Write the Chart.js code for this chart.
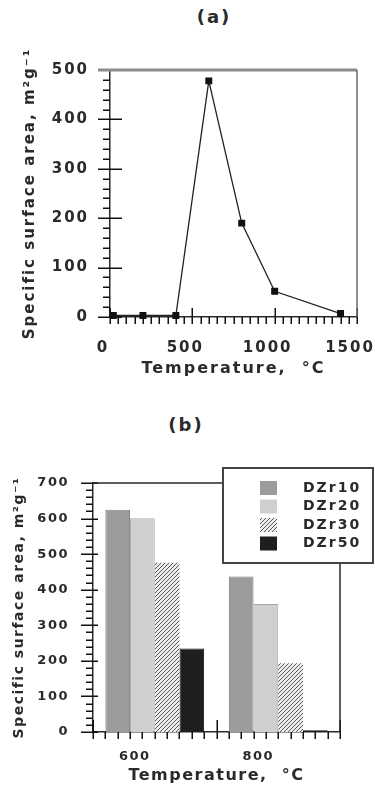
<!DOCTYPE html>
<html>
<head>
<meta charset="utf-8">
<script src="https://cdn.jsdelivr.net/npm/chart.js"></script>
<style>
body { margin: 0; background: #fff; width: 375px; height: 785px; position: relative; overflow: hidden; }
.cap { position: absolute; font: bold 18px "DejaVu Sans"; color: #2a2a2a; transform: translateX(-50%); line-height: 21px; letter-spacing: 2px; }
#capA { left: 214px; top: 6px; }
#capB { left: 186px; top: 414px; }
#chartA { position: absolute; left: 0; top: 0; }
#chartB { position: absolute; left: 0; top: 400px; }
</style>
</head>
<body>
<div class="cap" id="capA">(a)</div>
<div class="cap" id="capB">(b)</div>
<canvas id="chartA" width="375" height="400"></canvas>
<canvas id="chartB" width="375" height="385"></canvas>
<script>
// (a) surface area vs calcination temperature
const tempsA = [20, 200, 400, 600, 800, 1000, 1400];
const areaA = [3, 3, 3, 478, 190, 52, 7];

// (b) grouped bars
const tempsB = ['600', '800'];
const dzr10 = [625, 437];
const dzr20 = [601, 360];
const dzr30 = [476, 193];
const dzr50 = [235, 5];

const yTitle = 'Specific surface area, m²g⁻¹';
const xTitle = 'Temperature,  °C';
const ink = '#2a2a2a';

function hatch() {
    const c = document.createElement('canvas');
    c.width = 4; c.height = 4;
    const g = c.getContext('2d');
    g.fillStyle = '#ececec';
    g.fillRect(0, 0, 4, 4);
    g.strokeStyle = '#5a5a5a';
    g.lineWidth = 1;
    g.beginPath();
    g.moveTo(0, 4); g.lineTo(4, 0);
    g.moveTo(-1, 1); g.lineTo(1, -1);
    g.moveTo(3, 5); g.lineTo(5, 3);
    g.stroke();
    return g.createPattern(c, 'repeat');
}

// the old typeface is widely spaced
const spacing = {
    id: 'spacing',
    beforeDraw(chart, args, o) {
        chart.ctx.letterSpacing = o.value || '0px';
    }
};

// tick marks: every minor step, longer at majors, positions from the scales
function drawTicks(chart, spec) {
    const ctx = chart.ctx;
    const s = chart.scales[spec.id];
    const n = Math.round((spec.to - spec.from) / spec.minor);
    const every = Math.round(spec.major / spec.minor);
    ctx.save();
    ctx.strokeStyle = '#111';
    ctx.lineWidth = 1.5;
    for (let i = 0; i <= n; i++) {
        const len = (i % every === 0) ? spec.majorLen : spec.minorLen;
        const p = Math.round(s.getPixelForValue(spec.from + i * spec.minor)) + 0.25;
        ctx.beginPath();
        if (s.isHorizontal()) {
            ctx.moveTo(p, s.top - len[0]);
            ctx.lineTo(p, s.top + len[1]);
        } else {
            ctx.moveTo(s.right + len[0], p);
            ctx.lineTo(s.right - len[1], p);
        }
        ctx.stroke();
    }
    ctx.restore();
}

const ticksA = [
    {id: 'x', from: 0, to: 1500, minor: 50, major: 500, minorLen: [0, 7], majorLen: [9, 7]},
    {id: 'y', from: 0, to: 500, minor: 20, major: 100, minorLen: [0, 7], majorLen: [12, 12]}
];
const ticksB = [
    {id: 'x', from: -0.5, to: 1.5, minor: 0.1, major: 1, minorLen: [0, 7], majorLen: [12, 7]},
    {id: 'y', from: 0, to: 700, minor: 20, major: 100, minorLen: [0, 7], majorLen: [5, 12]}
];

const frameA = {
    id: 'frameA',
    afterDraw(chart) {
        const {ctx, chartArea: ca} = chart;
        ticksA.forEach(t => drawTicks(chart, t));
        ctx.save();
        ctx.strokeStyle = '#8c8c8c';
        ctx.lineWidth = 3;
        ctx.beginPath();
        ctx.moveTo(ca.left - 12, ca.top);
        ctx.lineTo(ca.right, ca.top);
        ctx.stroke();
        ctx.strokeStyle = '#6a6a6a';
        ctx.lineWidth = 1.5;
        ctx.beginPath();
        ctx.moveTo(ca.right, ca.top);
        ctx.lineTo(ca.right, ca.bottom);
        ctx.stroke();
        ctx.restore();
    }
};

const legendB = {
    id: 'legendB',
    afterDraw(chart) {
        const {ctx, chartArea: ca} = chart;
        ticksB.forEach(t => drawTicks(chart, t));
        const left = ca.right - 117, top = ca.top - 15, w = 150, h = 95;
        ctx.save();
        ctx.strokeStyle = ink;
        ctx.lineWidth = 1.5;
        ctx.beginPath();
        ctx.moveTo(ca.left, ca.top);
        ctx.lineTo(left, ca.top);
        ctx.moveTo(ca.right, top + h);
        ctx.lineTo(ca.right, ca.bottom);
        ctx.stroke();
        ctx.fillStyle = '#fff';
        ctx.fillRect(left, top, w, h);
        ctx.strokeStyle = '#444';
        ctx.lineWidth = 2;
        ctx.strokeRect(left, top, w, h);
        ctx.font = 'bold 14px "DejaVu Sans"';
        ctx.letterSpacing = '2px';
        ctx.textBaseline = 'middle';
        ctx.textAlign = 'left';
        chart.data.datasets.forEach((ds, i) => {
            const y = top + 20 + i * 18.5;
            ctx.fillStyle = ds.backgroundColor;
            ctx.fillRect(left + 37, y - 7, 17, 14);
            ctx.fillStyle = ink;
            ctx.fillText(ds.label, left + 80, y);
        });
        ctx.restore();
    }
};

const tickFontA = {family: 'DejaVu Sans', size: 15, weight: 'bold'};
const titleFontA = {family: 'DejaVu Sans', size: 16, weight: 'bold'};
const yTitleFontA = {family: 'DejaVu Sans', size: 15, weight: 'bold'};
const tickFontB = {family: 'DejaVu Sans', size: 13, weight: 'bold'};
const titleFontB = {family: 'DejaVu Sans', size: 16, weight: 'bold'};
const yTitleFontB = {family: 'DejaVu Sans', size: 14, weight: 'bold'};

new Chart(document.getElementById('chartA'), {
    type: 'line',
    data: {
        datasets: [{
            label: 'Surface area',
            data: tempsA.map((t, i) => ({x: t, y: areaA[i]})),
            borderColor: '#222',
            borderWidth: 1.3,
            pointStyle: 'rect',
            pointRadius: 4,
            pointBackgroundColor: '#111',
            pointBorderColor: '#111',
            tension: 0,
            clip: false
        }]
    },
    options: {
        responsive: false,
        animation: false,
        layout: { padding: {top: 70, right: 18, left: 0, bottom: 0} },
        scales: {
            x: {
                type: 'linear',
                min: 0, max: 1500,
                grid: { display: false },
                border: { display: true, color: ink, width: 1.5 },
                ticks: { stepSize: 500, color: ink, font: tickFontA, padding: 14, labelOffset: -7, maxRotation: 0,
                         callback: v => String(v) },
                title: { display: true, text: xTitle, color: ink, font: titleFontA, padding: {top: 0, bottom: 22} },
                afterFit(s) { s.height = 83; s.paddingLeft = 0; s.paddingRight = 0; }
            },
            y: {
                min: 0, max: 500,
                grid: { display: false },
                border: { display: true, color: ink, width: 1.5 },
                ticks: { stepSize: 100, color: ink, font: tickFontA, padding: 13 },
                title: { display: true, text: yTitle, color: ink, font: yTitleFontA, padding: {top: 21, bottom: 0} },
                afterFit(s) { s.width = 110; }
            }
        },
        plugins: {
            legend: { display: false },
            tooltip: { enabled: false },
            spacing: { value: '2px' }
        }
    },
    plugins: [spacing, frameA]
});

new Chart(document.getElementById('chartB'), {
    type: 'bar',
    data: {
        labels: tempsB,
        datasets: [
            { label: 'DZr10', data: dzr10, backgroundColor: '#9c9c9c', borderColor: '#808080', borderWidth: 1 },
            { label: 'DZr20', data: dzr20, backgroundColor: '#cfcfcf', borderColor: '#a8a8a8', borderWidth: 1 },
            { label: 'DZr30', data: dzr30, backgroundColor: hatch(), borderColor: '#bbbbbb', borderWidth: 0 },
            { label: 'DZr50', data: dzr50, backgroundColor: '#1e1e1e', borderColor: '#111', borderWidth: 1 }
        ]
    },
    options: {
        responsive: false,
        animation: false,
        layout: { padding: {top: 83, right: 35, left: 0, bottom: 0} },
        datasets: { bar: { categoryPercentage: 0.8, barPercentage: 1.0 } },
        scales: {
            x: {
                grid: { display: false },
                border: { display: true, color: ink, width: 1.5 },
                ticks: { color: ink, font: tickFontB, padding: 9, labelOffset: -20, maxRotation: 0 },
                title: { display: true, text: xTitle, color: ink, font: titleFontB, padding: {top: 0, bottom: 0} },
                afterFit(s) { s.height = 53; s.paddingLeft = 0; s.paddingRight = 0; }
            },
            y: {
                min: 0, max: 700,
                grid: { display: false },
                border: { display: true, color: ink, width: 1.5 },
                ticks: { stepSize: 100, color: ink, font: tickFontB, padding: 16 },
                title: { display: true, text: yTitle, color: ink, font: yTitleFontB, padding: {top: 11, bottom: 0} },
                afterFit(s) { s.width = 93; }
            }
        },
        plugins: {
            legend: { display: false },
            tooltip: { enabled: false },
            spacing: { value: '1.5px' }
        }
    },
    plugins: [spacing, legendB]
});
</script>
</body>
</html>
